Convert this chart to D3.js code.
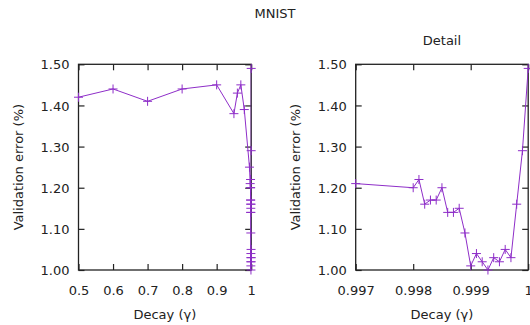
<!DOCTYPE html>
<html>
<head>
<meta charset="utf-8">
<script src="https://cdn.jsdelivr.net/npm/d3@7"></script>
<style>
  html, body { margin: 0; padding: 0; background: #fff; }
  svg { display: block; }
  text { font-family: "DejaVu Sans", sans-serif; fill: #222; }
</style>
</head>
<body>
<svg id="chart" width="530" height="325"></svg>
<script>
// ---- data ----
const decay = [0.5, 0.6, 0.7, 0.8, 0.9, 0.95, 0.96, 0.97, 0.98, 0.995,
  0.997, 0.998, 0.9981, 0.9982, 0.9983, 0.9984, 0.9985, 0.9986, 0.9987, 0.9988,
  0.9989, 0.999, 0.9991, 0.9992, 0.9993, 0.9994, 0.9995, 0.9996, 0.9997, 0.9998,
  0.9999, 1.0];
const valError = [1.42, 1.44, 1.41, 1.44, 1.45, 1.38, 1.43, 1.45, 1.39, 1.25,
  1.21, 1.20, 1.22, 1.16, 1.17, 1.17, 1.20, 1.14, 1.14, 1.15,
  1.09, 1.01, 1.04, 1.02, 1.00, 1.03, 1.02, 1.05, 1.03, 1.16,
  1.29, 1.49];
const yTicks = [1.0, 1.1, 1.2, 1.3, 1.4, 1.5];
const xTicksMain = [0.5, 0.6, 0.7, 0.8, 0.9, 1.0];
const xTickLabelsMain = ["0.5", "0.6", "0.7", "0.8", "0.9", "1"];
const xTicksDetail = [0.997, 0.998, 0.999, 1.0];
const xTickLabelsDetail = ["0.997", "0.998", "0.999", "1"];
const title = "MNIST";
const detailTitle = "Detail";
const xLabel = "Decay (γ)";
const yLabel = "Validation error (%)";

const points = decay.map((d, i) => ({x: d, y: valError[i]}));

const svg = d3.select("#chart");
const color = "#8e2ec8";
const fontSize = 13;

svg.append("text").attr("x", 275).attr("y", 18).attr("text-anchor", "middle")
  .style("font-size", fontSize + "px").text(title);

function panel(cfg) {
  const x = d3.scaleLinear().domain(cfg.xDomain).range([cfg.left, cfg.right]);
  const y = d3.scaleLinear().domain([1.0, 1.5]).range([cfg.bottom, cfg.top]);
  const g = svg.append("g");
  const id = "clip" + cfg.name;
  svg.append("clipPath").attr("id", id).append("rect")
    .attr("x", cfg.left).attr("y", cfg.top)
    .attr("width", cfg.right - cfg.left).attr("height", cfg.bottom - cfg.top);

  const tick = 6;
  const axB = d3.axisBottom(x).tickValues(cfg.xTicks).tickSize(-tick).tickPadding(0)
    .tickFormat((d, i) => cfg.xLabels[i]);
  const gB = g.append("g").attr("transform", `translate(0,${cfg.bottom})`).call(axB);
  gB.selectAll("text").attr("dy", null).attr("y", 25).style("font-size", fontSize + "px").style("fill", "#222");
  const axT = d3.axisTop(x).tickValues(cfg.xTicks).tickSize(-tick).tickFormat("");
  g.append("g").attr("transform", `translate(0,${cfg.top})`).call(axT);
  const axL = d3.axisLeft(y).tickValues(yTicks).tickSize(-tick).tickPadding(0)
    .tickFormat(d3.format(".2f"));
  const gL = g.append("g").attr("transform", `translate(${cfg.left},0)`).call(axL);
  gL.selectAll("text").attr("x", -9).attr("dy", "0.36em").style("font-size", fontSize + "px").style("fill", "#222");
  const axR = d3.axisRight(y).tickValues(yTicks).tickSize(-tick).tickFormat("");
  g.append("g").attr("transform", `translate(${cfg.right},0)`).call(axR);
  g.selectAll(".domain").remove();
  g.selectAll(".tick line").attr("stroke", "#222").attr("stroke-width", 1.2);
  g.append("rect").attr("x", cfg.left).attr("y", cfg.top)
    .attr("width", cfg.right - cfg.left).attr("height", cfg.bottom - cfg.top)
    .attr("fill", "none").attr("stroke", "#222").attr("stroke-width", 1.3);

  const line = d3.line().x(d => x(d.x)).y(d => y(d.y));
  g.append("path").datum(points).attr("d", line).attr("fill", "none")
    .attr("stroke", color).attr("stroke-width", 1).attr("clip-path", `url(#${id})`);

  const vis = points.filter(d => d.x >= cfg.xDomain[0] && d.x <= cfg.xDomain[1]);
  const s = 4.5;
  g.append("g").selectAll("path").data(vis).join("path")
    .attr("d", d => `M${x(d.x) - s},${y(d.y)}H${x(d.x) + s}M${x(d.x)},${y(d.y) - s}V${y(d.y) + s}`)
    .attr("stroke", color).attr("stroke-width", 1).attr("fill", "none");

  svg.append("text").attr("x", (cfg.left + cfg.right) / 2).attr("y", 319)
    .attr("text-anchor", "middle").style("font-size", fontSize + "px").text(xLabel);
  svg.append("text").attr("transform", `translate(${cfg.yLabelX},${(cfg.top + cfg.bottom) / 2}) rotate(-90)`)
    .attr("text-anchor", "middle").style("font-size", fontSize + "px").text(yLabel);
  if (cfg.title) {
    svg.append("text").attr("x", (cfg.left + cfg.right) / 2).attr("y", 45)
      .attr("text-anchor", "middle").style("font-size", fontSize + "px").text(cfg.title);
  }
}

panel({name: "main", xDomain: [0.5, 1.0], left: 78.5, right: 251.2, top: 64.3, bottom: 270,
  xTicks: xTicksMain, xLabels: xTickLabelsMain, yLabelX: 23});
panel({name: "detail", xDomain: [0.997, 1.0], left: 355.7, right: 528.2, top: 64.3, bottom: 270,
  xTicks: xTicksDetail, xLabels: xTickLabelsDetail, yLabelX: 300, title: detailTitle});
</script>
</body>
</html>
